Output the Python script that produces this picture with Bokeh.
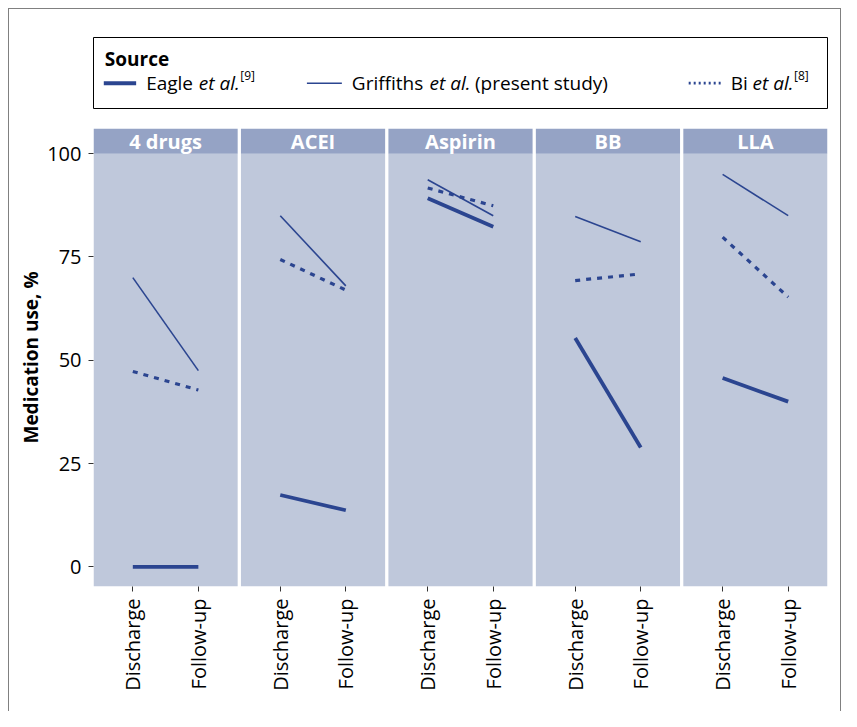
import math
from bokeh.plotting import figure
from bokeh.models import FactorRange, Range1d, FixedTicker, ColumnDataSource, Spacer
from bokeh.layouts import column, row
from bokeh.core.properties import value
from bokeh.embed import file_html
from bokeh.resources import INLINE

# ---------------- data ----------------
panels = ["4 drugs", "ACEI", "Aspirin", "BB", "LLA"]
times = ["Discharge", "Follow-up"]

eagle_discharge = [0.0, 17.4, 89.2, 55.4, 45.7]
eagle_followup = [0.0, 13.7, 82.3, 28.9, 40.0]
griffiths_discharge = [70.0, 85.0, 93.7, 84.8, 95.0]
griffiths_followup = [47.5, 68.0, 85.0, 78.7, 85.0]
bi_discharge = [47.3, 74.4, 91.7, 69.3, 79.8]
bi_followup = [42.8, 67.0, 87.4, 70.9, 65.3]

y_ticks = [0, 25, 50, 75, 100]
y_title = "Medication use, %"
legend_title = "Source"

# ---------------- style ----------------
FONT = value("Open Sans")
LINE = "#2B4590"
PANEL_BG = "#BFC8DB"
HEADER_BG = "#95A3C5"
Y_BOTTOM = -4.75
Y_PANEL_TOP = 100.0
Y_HEADER_TOP = 106.1

factors = [(g, t) for g in panels for t in times]
x_range = FactorRange(*factors, factor_padding=0.0, group_padding=0.25,
                      range_padding=0.1, range_padding_units="absolute")

p = figure(width=831, height=602, x_range=x_range,
           y_range=Range1d(Y_BOTTOM, Y_HEADER_TOP),
           output_backend="svg", toolbar_location=None,
           min_border_left=83, min_border_right=13,
           min_border_top=19, min_border_bottom=125)
p.outline_line_color = None
p.background_fill_color = "white"
p.xgrid.visible = False
p.ygrid.visible = False

# panel backgrounds and strip headers
p.rect(x=panels, y=(Y_BOTTOM + Y_PANEL_TOP) / 2, width=2.2,
       height=Y_PANEL_TOP - Y_BOTTOM, fill_color=PANEL_BG, line_color=None)
p.rect(x=panels, y=(Y_PANEL_TOP + Y_HEADER_TOP) / 2, width=2.2,
       height=Y_HEADER_TOP - Y_PANEL_TOP, fill_color=HEADER_BG, line_color=None)
p.text(x=panels, y=[(Y_PANEL_TOP + Y_HEADER_TOP) / 2] * len(panels), text=panels,
       text_font=FONT, text_font_style="bold", text_font_size="20px",
       text_color="white", text_align="center", text_baseline="middle")

def seg_source(d, f):
    return ColumnDataSource(dict(
        x0=[(g, times[0]) for g in panels], x1=[(g, times[1]) for g in panels],
        y0=d, y1=f))

p.segment(x0="x0", y0="y0", x1="x1", y1="y1",
          source=seg_source(eagle_discharge, eagle_followup),
          line_color=LINE, line_width=3.8)
p.segment(x0="x0", y0="y0", x1="x1", y1="y1",
          source=seg_source(griffiths_discharge, griffiths_followup),
          line_color=LINE, line_width=1.6)
p.segment(x0="x0", y0="y0", x1="x1", y1="y1",
          source=seg_source(bi_discharge, bi_followup),
          line_color=LINE, line_width=3.2, line_dash="5 6")

# axes
xa = p.xaxis[0]
xa.major_label_orientation = math.pi / 2
xa.axis_line_color = None
xa.major_tick_out = 5
xa.major_tick_in = 0
xa.major_tick_line_color = "#333333"
xa.major_label_standoff = 7
xa.major_label_text_font = "Open Sans"
xa.major_label_text_font_size = "20px"
xa.major_label_text_color = "black"
xa.group_text_font_size = "0px"
xa.group_text_alpha = 0
xa.separator_line_color = None

ya = p.yaxis[0]
ya.ticker = FixedTicker(ticks=y_ticks)
ya.axis_line_color = None
ya.minor_tick_line_color = None
ya.major_tick_out = 5
ya.major_tick_in = 0
ya.major_tick_line_color = "#333333"
ya.major_label_standoff = 7
ya.major_label_text_font = "Open Sans"
ya.major_label_text_font_size = "20px"
ya.major_label_text_color = "black"
ya.axis_label = y_title
ya.axis_label_text_font = "Open Sans"
ya.axis_label_text_font_style = "bold"
ya.axis_label_text_font_size = "19px"
ya.axis_label_text_color = "black"
ya.axis_label_standoff = 0

# ---------------- legend (separate box above) ----------------
leg = figure(width=831, height=100, x_range=Range1d(0, 735), y_range=Range1d(0, 72),
             min_border_left=84, min_border_right=12, min_border_top=28,
             min_border_bottom=0, x_axis_location=None, y_axis_location=None,
             output_backend="svg", toolbar_location=None)
leg.outline_line_color = "black"
leg.outline_line_width = 1
for g in leg.grid:
    g.visible = False

leg.text(x=[11.3], y=[51], text=[legend_title], text_font=FONT,
         text_font_style="bold", text_font_size="19px", text_color="black",
         text_baseline="alphabetic")

# keys
KEY_Y = 26.3
leg.segment(x0=[10.3], y0=[KEY_Y], x1=[42.7], y1=[KEY_Y], line_color=LINE, line_width=4)
leg.segment(x0=[213.7], y0=[KEY_Y], x1=[248.7], y1=[KEY_Y], line_color=LINE, line_width=1.6)
leg.segment(x0=[596], y0=[KEY_Y], x1=[628], y1=[KEY_Y], line_color=LINE,
            line_width=2.7, line_dash="2 3")

def piece(x, txt, style="normal", size="19px", y=26.5):
    leg.text(x=[x], y=[y], text=[txt], text_font=FONT, text_font_style=style,
             text_font_size=size, text_color="black", text_baseline="alphabetic")

piece(52.7, "Eagle")
piece(105.5, "et al.", "italic")
piece(147, "[9]", size="12px", y=34)
piece(258.7, "Griffiths")
piece(336.5, "et al.", "italic")
piece(382, "(present study)")
piece(638, "Bi")
piece(660, "et al.", "italic")
piece(701.5, "[8]", size="12px", y=34)

inner = column(leg, p, spacing=0,
               styles={"border-top": "1px solid #808080",
                       "border-left": "1px solid #808080",
                       "border-right": "1px solid #808080"})
layout = column(Spacer(height=8, width=841),
                row(Spacer(width=8, height=702), inner, spacing=0),
                spacing=0)

open("out.html", "w").write(file_html(layout, INLINE))
